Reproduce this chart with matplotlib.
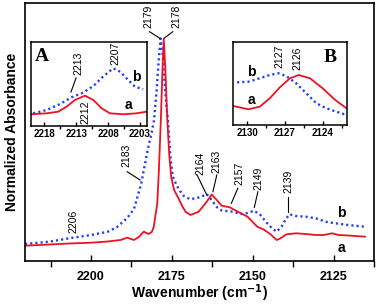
import matplotlib
matplotlib.use("Agg")
import matplotlib.pyplot as plt

# ---------------- main spectra ----------------
wn_a = [2220.4, 2212.9, 2206.8, 2199.9, 2194.8, 2190.9, 2188.8, 2186.7, 2185.2, 2183.7,
        2182.2, 2181.2, 2180.6, 2179.5, 2179.0, 2178.4, 2177.9, 2177.5, 2177.0, 2176.4,
        2175.8, 2175.2, 2174.3, 2173.2, 2171.7, 2170.7, 2169.2, 2166.7, 2164.2, 2162.7,
        2161.1, 2159.6, 2157.1, 2154.6, 2151.6, 2148.6, 2146.6, 2144.6, 2142.6, 2141.5,
        2139.6, 2136.6, 2133.6, 2130.5, 2128.0, 2125.5, 2123.5, 2120.5, 2115.3]
abs_a = [0.153, 0.165, 0.175, 0.183, 0.195, 0.21, 0.233, 0.21, 0.24, 0.293,
         0.27, 0.29, 0.34, 0.58, 0.91, 1.41, 1.91, 2.22, 1.91, 1.41,
         1.06, 0.84, 0.71, 0.643, 0.543, 0.49, 0.46, 0.493, 0.593, 0.665,
         0.61, 0.553, 0.537, 0.493, 0.443, 0.343, 0.315, 0.27, 0.21, 0.225,
         0.267, 0.277, 0.27, 0.26, 0.26, 0.277, 0.26, 0.255, 0.243]

wn_b = [2220.4, 2212.9, 2206.8, 2199.9, 2194.8, 2191.8, 2188.8, 2186.7, 2184.5, 2182.6,
        2181.2, 2180.5, 2179.7, 2179.1, 2178.5, 2177.9, 2177.3, 2176.7, 2176.2, 2175.5,
        2174.7, 2173.7, 2172.7, 2171.3, 2169.5, 2167.7, 2165.7, 2164.2, 2162.7, 2161.1,
        2159.6, 2156.6, 2153.6, 2151.6, 2149.6, 2147.6, 2145.6, 2144.1, 2142.6, 2141.1,
        2139.6, 2138.6, 2136.6, 2133.6, 2130.5, 2127.5, 2124.5, 2120.5, 2115.3]
abs_b = [0.17, 0.193, 0.227, 0.26, 0.293, 0.343, 0.43, 0.52, 0.77, 1.09,
         1.29, 1.41, 1.71, 1.99, 2.225, 2.09, 1.81, 1.56, 1.41, 1.06,
         0.843, 0.77, 0.71, 0.65, 0.62, 0.625, 0.645, 0.67, 0.61, 0.54,
         0.505, 0.495, 0.47, 0.48, 0.503, 0.46, 0.38, 0.33, 0.293, 0.343,
         0.427, 0.467, 0.45, 0.443, 0.427, 0.393, 0.377, 0.36, 0.343]

# ---------------- inset A ----------------
wnA_a = [2220.1, 2217.6, 2215.8, 2214.5, 2213.2, 2211.6, 2210.3, 2209.0, 2207.7, 2205.6, 2203.5, 2202.0]
absA_a = [0.117, 0.127, 0.143, 0.193, 0.26, 0.303, 0.26, 0.177, 0.127, 0.117, 0.127, 0.143]
wnA_b = [2219.7, 2217.6, 2215.5, 2213.7, 2211.9, 2210.3, 2208.8, 2207.2, 2206.1, 2205.1, 2203.8, 2202.5]
absA_b = [0.127, 0.16, 0.22, 0.287, 0.333, 0.40, 0.493, 0.577, 0.543, 0.477, 0.393, 0.367]

# ---------------- inset B ----------------
wnB_a = [2131.1, 2129.9, 2129.0, 2128.2, 2127.4, 2126.6, 2125.9, 2125.0, 2124.0, 2123.0, 2122.1]
absB_a = [0.19, 0.157, 0.183, 0.267, 0.377, 0.467, 0.50, 0.467, 0.367, 0.25, 0.167]
wnB_b = [2130.8, 2129.9, 2129.0, 2128.2, 2127.5, 2126.9, 2126.1, 2125.3, 2124.5, 2123.7, 2122.9, 2122.1]
absB_b = [0.427, 0.433, 0.467, 0.50, 0.517, 0.49, 0.417, 0.317, 0.217, 0.167, 0.133, 0.10]

main_ticks = [2200, 2175, 2150, 2125]
insetA_ticks = [2218, 2213, 2208, 2203]
insetB_ticks = [2130, 2127, 2124]

RED = "#ee1122"
BLUE = "#1f3cff"
SANS = "Liberation Sans"
SERIF = "Liberation Serif"

fig = plt.figure(figsize=(3.78, 3.04), dpi=100)
ax = fig.add_axes([25 / 378, 43 / 304, 349 / 378, 258 / 304])

ax.plot(wn_b, abs_b, color=BLUE, lw=1.7, linestyle=(0, (0.9, 1.3)))
ax.plot(wn_a, abs_a, color=RED, lw=1.3)
ax.set_xlim(2220.4, 2115.3)
ax.set_ylim(0, 2.58)
ax.set_xticks(main_ticks)
ax.set_xticks([t + 12.5 for t in main_ticks] + [2112.5], minor=True)
ax.set_yticks([])
ax.tick_params(axis="x", which="major", direction="in", length=4, width=1, pad=7)
ax.tick_params(axis="x", which="minor", direction="out", length=4, width=1)
for lab in ax.get_xticklabels():
    lab.set_fontfamily(SANS)
    lab.set_fontweight("bold")
    lab.set_fontsize(9)
for s in ax.spines.values():
    s.set_linewidth(1.2)
ax.set_xlabel("Wavenumber (cm$^{\\mathbf{-1}}$)", fontfamily=SANS, fontweight="bold", fontsize=10, labelpad=0)
ax.set_ylabel("Normalized Absorbance", fontfamily=SANS, fontweight="bold", fontsize=10, labelpad=4)

ann_kw = dict(rotation=90, ha="center", va="bottom", fontsize=7.5, fontfamily=SANS)
ax.text(2182.2, 2.33, "2179", **ann_kw)
ax.text(2173.7, 2.33, "2178", **ann_kw)
ax.plot([2181.9, 2178.7], [2.293, 2.227], color="k", lw=0.8)
ax.plot([2177.4, 2174.7], [2.227, 2.293], color="k", lw=0.8)
ax.text(2189.0, 0.943, "2183", **ann_kw)
ax.plot([2188.8, 2184.8], [0.893, 0.81], color="k", lw=0.8)
ax.text(2205.3, 0.277, "2206", **ann_kw)
ax.text(2166.2, 0.86, "2164", **ann_kw)
ax.plot([2167.2, 2164.2], [0.86, 0.66], color="k", lw=0.8)
ax.text(2161.1, 0.88, "2163", **ann_kw)
ax.plot([2161.1, 2162.3], [0.86, 0.693], color="k", lw=0.8)
ax.text(2154.1, 0.76, "2157", **ann_kw)
ax.plot([2154.6, 2156.6], [0.727, 0.577], color="k", lw=0.8)
ax.text(2148.1, 0.71, "2149", **ann_kw)
ax.plot([2148.4, 2149.5], [0.693, 0.535], color="k", lw=0.8)
ax.text(2139.1, 0.683, "2139", **ann_kw)
ax.plot([2139.2, 2139.2], [0.643, 0.493], color="k", lw=0.8)
ax.text(2122.5, 0.48, "b", fontsize=10, fontweight="bold", fontfamily=SANS, ha="center", va="center")
ax.text(2122.7, 0.127, "a", fontsize=10, fontweight="bold", fontfamily=SANS, ha="center", va="center")

# ---------- inset A ----------
axA = fig.add_axes([30.7 / 378, 178 / 304, 116 / 378, 84.3 / 304])
axA.plot(wnA_b, absA_b, color=BLUE, lw=1.7, linestyle=(0, (0.9, 1.3)))
axA.plot(wnA_a, absA_a, color=RED, lw=1.3)
axA.set_xlim(2220.1, 2201.95)
axA.set_ylim(0, 0.843)
axA.set_xticks(insetA_ticks)
axA.set_xticks([2215.5, 2210.5, 2205.5], minor=True)
axA.set_yticks([])
axA.tick_params(axis="x", which="major", direction="in", length=3, width=1, pad=2.5)
axA.tick_params(axis="x", which="minor", direction="out", length=2.5, width=1)
for lab in axA.get_xticklabels():
    lab.set_fontfamily(SANS)
    lab.set_fontweight("bold")
    lab.set_fontsize(7)
for s in axA.spines.values():
    s.set_linewidth(1.1)
axA.text(2219.5, 0.695, "A", fontsize=14, fontweight="bold", fontfamily=SERIF, ha="left", va="center")
axA.text(2203.5, 0.493, "b", fontsize=10, fontweight="bold", fontfamily=SANS, ha="center", va="center")
axA.text(2204.8, 0.21, "a", fontsize=10, fontweight="bold", fontfamily=SANS, ha="center", va="center")
axA.text(2212.7, 0.51, "2213", **ann_kw)
axA.plot([2213.0, 2213.8], [0.48, 0.34], color="k", lw=0.8)
axA.text(2211.6, 0.26, "2212", rotation=90, ha="center", va="top", fontsize=7.5, fontfamily=SANS)
axA.text(2206.9, 0.61, "2207", **ann_kw)

# ---------- inset B ----------
axB = fig.add_axes([233.3 / 378, 179 / 304, 114 / 378, 83.3 / 304])
axB.plot(wnB_b, absB_b, color=BLUE, lw=1.7, linestyle=(0, (0.9, 1.3)))
axB.plot(wnB_a, absB_a, color=RED, lw=1.3)
axB.set_xlim(2131.1, 2122.04)
axB.set_ylim(0, 0.833)
axB.set_xticks(insetB_ticks)
axB.set_xticks([2128.5, 2125.5, 2122.5], minor=True)
axB.set_yticks([])
axB.tick_params(axis="x", which="major", direction="in", length=3, width=1, pad=2.5)
axB.tick_params(axis="x", which="minor", direction="out", length=2.5, width=1)
for lab in axB.get_xticklabels():
    lab.set_fontfamily(SANS)
    lab.set_fontweight("bold")
    lab.set_fontsize(7)
for s in axB.spines.values():
    s.set_linewidth(1.1)
axB.text(2123.4, 0.68, "B", fontsize=14, fontweight="bold", fontfamily=SERIF, ha="center", va="center")
axB.text(2129.65, 0.533, "b", fontsize=10, fontweight="bold", fontfamily=SANS, ha="center", va="center")
axB.text(2129.65, 0.25, "a", fontsize=10, fontweight="bold", fontfamily=SANS, ha="center", va="center")
axB.text(2127.4, 0.57, "2127", **ann_kw)
axB.text(2126.0, 0.55, "2126", **ann_kw)

fig.savefig("out.png", dpi=100)
